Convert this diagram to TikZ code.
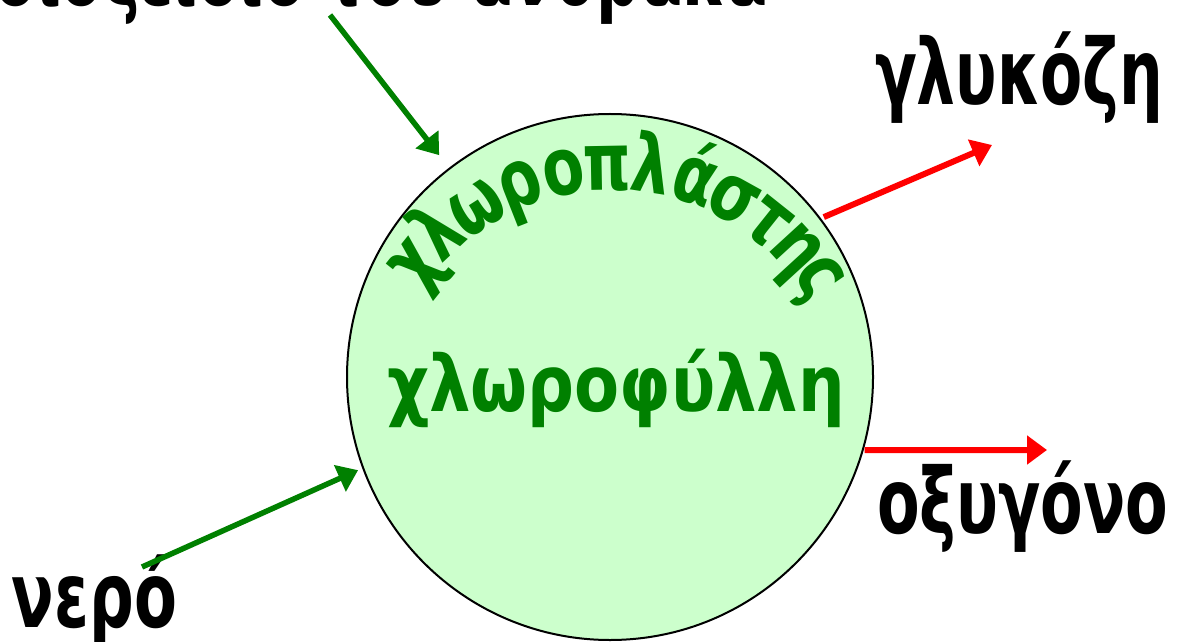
\documentclass[tikz,border=0pt]{standalone}
\usepackage{fontspec}
\setmainfont{DejaVu Sans}
\newfontfamily\labelfont{DejaVu Sans}[FakeStretch=0.8]
\usetikzlibrary{arrows.meta}

\definecolor{leaf}{HTML}{008000}
\definecolor{stroma}{HTML}{CCFFCC}
\definecolor{outflow}{HTML}{FF0000}

% bold labels, squeezed horizontally to a given width
\newcommand{\blacklabel}[2]{\resizebox{#1}{\height}{\labelfont\bfseries\fontsize{91}{100}\selectfont #2}}
\newcommand{\greenlabel}[2]{\resizebox{#1}{\height}{\color{leaf}\labelfont\bfseries\fontsize{78}{90}\selectfont #2}}
% one letter of the curved word, in a box of fixed height (60pt) and depth (20pt),
% so that its centre lies 20pt above its baseline
\newcommand{\arcletter}[1]{\raisebox{0pt}[60pt][20pt]{\scalebox{0.76}[1]{\color{leaf}\bfseries\fontsize{80}{90}\selectfont #1}}}

\tikzset{
  word/.style={inner sep=0pt, outer sep=0pt},
  curved/.style={inner sep=0pt, outer sep=0pt, anchor=center},
  inflow/.style={draw=leaf, line width=5.5pt, -{Triangle[length=20pt,width=28pt]}},
  product/.style={draw=outflow, line width=6pt, -{Triangle[length=20pt,width=28pt]}},
  organelle/.style={circle, draw=black, line width=2pt, fill=stroma,
                    minimum size=526pt, inner sep=0pt},
}

\begin{document}
\begin{tikzpicture}[x=1pt, y=1pt]
  \clip (0,0) rectangle (1177,641);

  % the chloroplast
  \node[organelle] (chloro) at (610,264) {};

  % the word arched over the top, letter by letter: baselines on a circle of
  % radius 230, letter centres 20pt further out
  \coordinate (arcc) at (612,221);
  \foreach \ch/\ang [count=\i] in {χ/141.5, λ/133.0, ω/122.5, ρ/111.5, ο/101.0, π/91.0,
                                   λ/81.0, ά/71.0, σ/61.0, τ/51.5, η/42.5, ς/34.5}
    \node[curved, rotate=\ang-90] (arc-\i) at ([shift={(\ang:250)}]arcc) {\arcletter{\ch}};

  \node[word, anchor=base west] (chl) at (387,230) {\greenlabel{458pt}{χλωροφύλλη}};

  % inputs and products
  \node[word, anchor=base east] (co2) at (768,635) {\blacklabel{773pt}{διοξείδιο του άνθρακα}};
  \node[word, anchor=base west] (water) at (12,14) {\blacklabel{165pt}{νερό}};
  \node[word, anchor=base west] (glucose) at (875,536) {\blacklabel{288pt}{γλυκόζη}};
  \node[word, anchor=base west] (oxygen) at (877,108) {\blacklabel{291pt}{οξυγόνο}};

  % arrow ends
  \coordinate (co2-from) at (330,626);
  \coordinate (co2-to) at ([shift={(127.6:280)}]chloro.center);
  \coordinate (water-from) at (142,74);
  \coordinate (water-to) at ([shift={(200.3:268.6)}]chloro.center);
  \coordinate (glu-from) at ([shift={(36.8:267)}]chloro.center);
  \coordinate (glu-to) at (992,496);
  \coordinate (oxy-from) at ([shift={(-16:265)}]chloro.center);
  \coordinate (oxy-to) at (1047,191);

  \draw[inflow] (co2-from) -- (co2-to);
  \draw[inflow] (water-from) -- (water-to);
  \draw[product] (glu-from) -- (glu-to);
  \draw[product] (oxy-from) -- (oxy-to);
\end{tikzpicture}
\end{document}
